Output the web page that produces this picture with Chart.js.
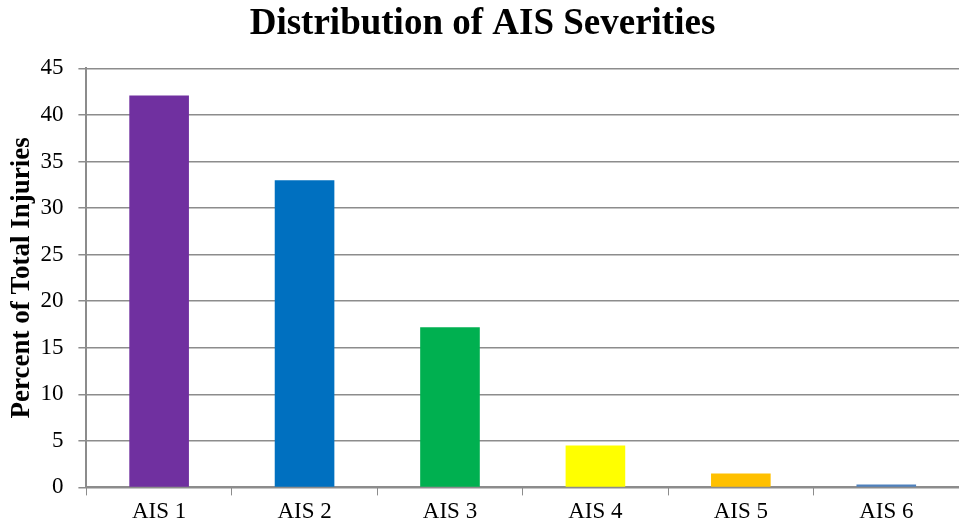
<!DOCTYPE html>
<html>
<head>
<meta charset="utf-8">
<script src="https://cdn.jsdelivr.net/npm/chart.js@4/dist/chart.umd.min.js"></script>
<style>
  html, body { margin: 0; padding: 0; background: #fff; }
  #wrap { width: 959px; height: 529px; position: relative; }
</style>
</head>
<body>
<div id="wrap"><canvas id="chart"></canvas></div>
<script>
// ── DATA ──────────────────────────────────────────────
const categories = ['AIS 1', 'AIS 2', 'AIS 3', 'AIS 4', 'AIS 5', 'AIS 6'];
const percents = [42.1, 33.0, 17.2, 4.5, 1.5, 0.3];
const barColors = ['#7030A0', '#0070C0', '#00B050', '#FFFF00', '#FFC000', '#4F81BD'];

const serif = 'Liberation Serif, Times New Roman, serif';
const gridGray = '#8c8c8c';

new Chart(document.getElementById('chart'), {
  type: 'bar',
  data: {
    labels: categories,
    datasets: [{
      data: percents,
      backgroundColor: barColors,
      borderWidth: 0,
      categoryPercentage: 1,
      barPercentage: 0.41
    }]
  },
  options: {
    responsive: true,
    maintainAspectRatio: false,
    animation: false,
    layout: { padding: { left: 6, right: 0, top: 0, bottom: 0 } },
    plugins: {
      legend: { display: false },
      tooltip: { enabled: false },
      title: {
        display: true,
        text: 'Distribution of AIS Severities',
        color: '#000',
        font: { family: serif, size: 37, weight: 'bold' },
        padding: { top: 2, bottom: 22 }
      }
    },
    scales: {
      x: {
        grid: {
          drawOnChartArea: false,
          drawTicks: true,
          tickLength: 8,
          color: gridGray
        },
        border: { color: gridGray, width: 2 },
        ticks: {
          color: '#000',
          font: { family: serif, size: 23 },
          padding: 3
        }
      },
      y: {
        min: 0,
        max: 45,
        ticks: {
          stepSize: 5,
          color: '#000',
          font: { family: serif, size: 23 },
          padding: 15
        },
        grid: { color: gridGray, lineWidth: 1.5, tickLength: 8 },
        border: { color: gridGray, width: 2 },
        title: {
          display: true,
          text: 'Percent of Total Injuries',
          color: '#000',
          font: { family: serif, size: 27, weight: 'bold' },
          padding: { top: 0, bottom: -13 }
        }
      }
    }
  }
});
</script>
</body>
</html>
